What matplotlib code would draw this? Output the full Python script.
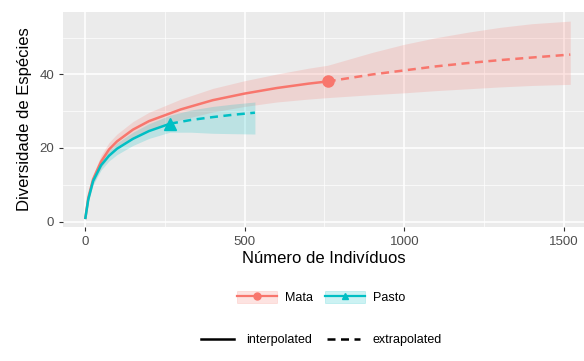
import matplotlib
matplotlib.use('Agg')
import matplotlib.pyplot as plt
from matplotlib.lines import Line2D
from matplotlib.patches import Patch
from matplotlib.legend_handler import HandlerTuple

plt.rcParams['font.family'] = ['Liberation Sans', 'DejaVu Sans']

# Mata - interpolated / extrapolated
mata_x_int = [1, 10, 25, 50, 75, 100, 150, 200, 300, 400, 500, 600, 700, 760]
mata_y_int = [1, 6.5, 11.5, 16.3, 19.6, 21.8, 25, 27.3, 30.5, 33, 34.8, 36.3, 37.5, 38.1]
mata_hi_int = [1, 7.3, 12.8, 18, 21.5, 23.8, 27.2, 29.7, 33.3, 36.2, 38.3, 40.1, 41.7, 42.5]
mata_lo_int = [1, 5.7, 10.2, 14.6, 17.7, 19.8, 22.8, 24.9, 27.7, 29.8, 31.3, 32.5, 33.3, 33.7]
mata_x_ext = [760, 900, 1000, 1100, 1200, 1300, 1400, 1520]
mata_y_ext = [38.1, 40, 41.1, 42.2, 43.1, 43.9, 44.6, 45.4]
mata_hi_ext = [42.5, 46, 48.2, 50, 51.5, 52.8, 53.8, 54.5]
mata_lo_ext = [33.7, 34.5, 35, 35.6, 36.1, 36.6, 37, 37.3]

# Pasto
pasto_x_int = [1, 10, 25, 50, 75, 100, 150, 200, 266]
pasto_y_int = [1, 6, 11, 15.3, 17.9, 19.8, 22.5, 24.6, 26.6]
pasto_hi_int = [1, 6.6, 12, 16.6, 19.3, 21.4, 24.3, 26.6, 28.9]
pasto_lo_int = [1, 5.4, 10, 14, 16.5, 18.2, 20.7, 22.6, 24.3]
pasto_x_ext = [266, 330, 400, 460, 532]
pasto_y_ext = [26.6, 27.6, 28.4, 29, 29.6]
pasto_hi_ext = [28.9, 30.3, 31.3, 31.9, 32.5]
pasto_lo_ext = [24.3, 24.3, 24.0, 23.9, 23.8]

c_mata = '#F8766D'
c_pasto = '#00BFC4'
dash = (0, (3.2, 2.2))

fig = plt.figure(figsize=(5.84, 3.61), dpi=100)
ax = fig.add_axes([0.108, 0.371, 0.892, 0.596])
ax.set_facecolor('#EBEBEB')
for s in ax.spines.values():
    s.set_visible(False)

ax.fill_between(mata_x_int, mata_lo_int, mata_hi_int, color=c_mata, alpha=0.2, lw=0)
ax.fill_between(mata_x_ext, mata_lo_ext, mata_hi_ext, color=c_mata, alpha=0.2, lw=0)
ax.fill_between(pasto_x_int, pasto_lo_int, pasto_hi_int, color=c_pasto, alpha=0.2, lw=0)
ax.fill_between(pasto_x_ext, pasto_lo_ext, pasto_hi_ext, color=c_pasto, alpha=0.2, lw=0)

ax.plot(mata_x_int, mata_y_int, color=c_mata, lw=1.8, zorder=3)
ax.plot(mata_x_ext, mata_y_ext, color=c_mata, lw=1.8, ls=dash, zorder=3)
ax.plot(pasto_x_int, pasto_y_int, color=c_pasto, lw=1.8, zorder=3)
ax.plot(pasto_x_ext, pasto_y_ext, color=c_pasto, lw=1.8, ls=dash, zorder=3)
ax.plot(mata_x_int[-1], mata_y_int[-1], 'o', color=c_mata, ms=8, zorder=4)
ax.plot(pasto_x_int[-1], pasto_y_int[-1], '^', color=c_pasto, ms=8, zorder=4)

ax.set_xlim(-69, 1563)
ax.set_ylim(-1.5, 57)
ax.set_xticks([0, 500, 1000, 1500])
ax.set_yticks([0, 20, 40])
ax.set_xticks([250, 750, 1250], minor=True)
ax.set_yticks([10, 30, 50], minor=True)
ax.grid(True, which='major', color='white', lw=1.1)
ax.grid(True, which='minor', color='white', lw=0.5)
ax.set_axisbelow(True)
ax.tick_params(which='major', length=3, color='#333333', labelcolor='#4D4D4D', labelsize=9.5)
ax.tick_params(which='minor', length=0)
ax.set_xlabel('Número de Indivíduos', fontsize=12, labelpad=2)
ax.set_ylabel('Diversidade de Espécies', fontsize=12, labelpad=5)

h_mata = (Patch(facecolor=c_mata, alpha=0.2, edgecolor=c_mata, lw=0.6),
          Line2D([], [], color=c_mata, lw=1.6, marker='o', ms=5))
h_pasto = (Patch(facecolor=c_pasto, alpha=0.2, edgecolor=c_pasto, lw=0.6),
           Line2D([], [], color=c_pasto, lw=1.6, marker='^', ms=5))
leg1 = fig.legend([h_mata, h_pasto], ['Mata', 'Pasto'], ncol=2,
                  loc='center', bbox_to_anchor=(0.55, 0.175), frameon=False,
                  fontsize=9, handlelength=3.2, handleheight=1.05, columnspacing=1,
                  handletextpad=0.6, handler_map={tuple: HandlerTuple(ndivide=1)})
leg2 = fig.legend([Line2D([], [], color='black', lw=1.8),
                   Line2D([], [], color='black', lw=1.8, ls=dash)],
                  ['interpolated', 'extrapolated'], ncol=2,
                  loc='center', bbox_to_anchor=(0.55, 0.058), frameon=False,
                  fontsize=9, handlelength=2.6, columnspacing=1.2, handletextpad=1)

fig.savefig('out.png', dpi=100)
